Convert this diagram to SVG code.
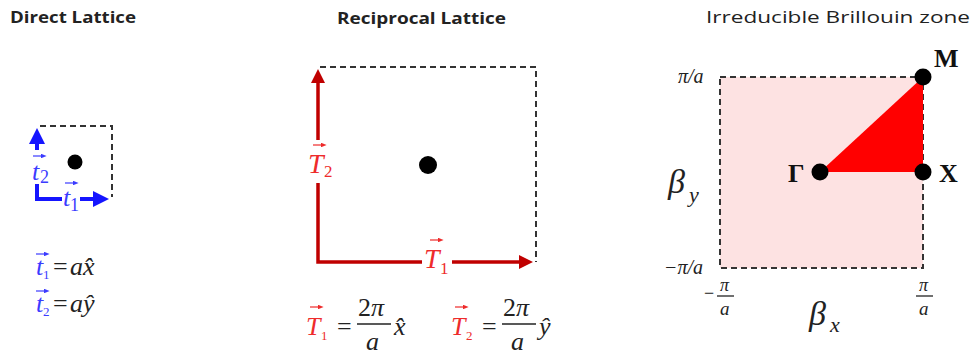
<svg xmlns="http://www.w3.org/2000/svg" width="976" height="360" viewBox="0 0 976 360">
<style>
.title{font-family:"Open Sans","Liberation Sans",sans-serif;fill:#222}
.m{font-family:"Liberation Serif","DejaVu Serif",serif;font-style:italic}
.r{font-family:"Liberation Serif","DejaVu Serif",serif}
.b{font-family:"Liberation Serif","DejaVu Serif",serif;font-weight:bold;fill:#111}
.dash{fill:none;stroke:#333;stroke-width:2;stroke-dasharray:6,4}
.blue{stroke:#1515ff;stroke-width:4;fill:none}
.red{stroke:#c00000;stroke-width:3.5;fill:none}
.vb{fill:#3b3bff}
.vr{fill:#ee2b2b}
.eq{fill:#222}
</style>
<defs>
<marker id="ab" markerWidth="4" markerHeight="4" refX="2" refY="2" orient="auto" markerUnits="strokeWidth"><path d="M0,0 L4,2 L0,4 z" fill="#1515ff"/></marker>
<marker id="ar" markerWidth="4" markerHeight="4" refX="2" refY="2" orient="auto" markerUnits="strokeWidth"><path d="M0,0 L4,2 L0,4 z" fill="#c00000"/></marker>
<marker id="vs" markerWidth="5" markerHeight="4" refX="2" refY="2" orient="auto" markerUnits="strokeWidth"><path d="M0,0 L5,2 L0,4 z" fill="context-stroke"/></marker>
</defs>

<g id="titles">
<text class="title" x="10" y="23" font-size="16" font-weight="700" textLength="126" lengthAdjust="spacingAndGlyphs">Direct Lattice</text>
<text class="title" x="337" y="24" font-size="16" font-weight="700" textLength="169" lengthAdjust="spacingAndGlyphs">Reciprocal Lattice</text>
<text class="title" x="706" y="23" font-size="17" textLength="264" lengthAdjust="spacingAndGlyphs">Irreducible Brillouin zone</text>
</g>

<g id="direct-lattice">
<path class="dash" d="M40,126 H112 V197"/>
<circle cx="75" cy="162" r="7.5" fill="#000"/>
<g id="connectors-direct">
<path class="blue" d="M37,150 V136" marker-end="url(#ab)"/>
<path class="blue" d="M37,184 V199 H62"/>
<path class="blue" d="M80,199 H101" marker-end="url(#ab)"/>
</g>
<g class="vb">
<text class="m" x="32" y="180" font-size="26">t</text>
<text class="r" x="40" y="183" font-size="18">2</text>
<path d="M33,156 H43" stroke="#3b3bff" stroke-width="1.2" marker-end="url(#vs)"/>
<text class="m" x="63" y="206" font-size="26">t</text>
<text class="r" x="70" y="211" font-size="18">1</text>
<path d="M65,183 H75" stroke="#3b3bff" stroke-width="1.2" marker-end="url(#vs)"/>
</g>
<g id="eq-t1">
<text class="m vb" x="36" y="275" font-size="26">t</text>
<text class="r vb" x="43" y="279" font-size="13">1</text>
<path d="M36,254 H46" stroke="#3b3bff" stroke-width="1.2" marker-end="url(#vs)"/>
<text class="r eq" x="53" y="275" font-size="26">=</text>
<text class="m eq" x="70" y="275" font-size="26">ax̂</text>
</g>
<g id="eq-t2">
<text class="m vb" x="36" y="312" font-size="26">t</text>
<text class="r vb" x="43" y="316" font-size="13">2</text>
<path d="M36,291 H46" stroke="#3b3bff" stroke-width="1.2" marker-end="url(#vs)"/>
<text class="r eq" x="53" y="312" font-size="26">=</text>
<text class="m eq" x="70" y="312" font-size="26">aŷ</text>
</g>
</g>

<g id="reciprocal-lattice">
<path class="dash" d="M320,67 H536 V262"/>
<circle cx="428" cy="165" r="9" fill="#000"/>
<g id="connectors-reciprocal">
<path class="red" d="M318,140 V76" marker-end="url(#ar)"/>
<path class="red" d="M318,183 V262 H422"/>
<path class="red" d="M452,262 H526" marker-end="url(#ar)"/>
</g>
<g class="vr">
<text class="m" x="308" y="173" font-size="28">T</text>
<text class="r" x="324" y="177" font-size="17">2</text>
<path d="M313,145 H323" stroke="#ee2b2b" stroke-width="1.2" marker-end="url(#vs)"/>
<text class="m" x="424" y="268" font-size="28">T</text>
<text class="r" x="440" y="274" font-size="17">1</text>
<path d="M430,240 H440" stroke="#ee2b2b" stroke-width="1.2" marker-end="url(#vs)"/>
</g>
<g id="eq-T1">
<text class="m vr" x="306" y="335" font-size="26">T</text>
<text class="r vr" x="321" y="340" font-size="13">1</text>
<path d="M310,307 H320" stroke="#ee2b2b" stroke-width="1.2" marker-end="url(#vs)"/>
<text class="r eq" x="337" y="335" font-size="26">=</text>
<text class="r eq" x="358" y="316" font-size="26">2<tspan class="m">π</tspan></text>
<path d="M357,324 H391" stroke="#222" stroke-width="1.5"/>
<text class="m eq" x="366" y="350" font-size="26">a</text>
<text class="m eq" x="394" y="335" font-size="26">x̂</text>
</g>
<g id="eq-T2">
<text class="m vr" x="451" y="335" font-size="26">T</text>
<text class="r vr" x="466" y="340" font-size="13">2</text>
<path d="M455,307 H465" stroke="#ee2b2b" stroke-width="1.2" marker-end="url(#vs)"/>
<text class="r eq" x="482" y="335" font-size="26">=</text>
<text class="r eq" x="503" y="316" font-size="26">2<tspan class="m">π</tspan></text>
<path d="M502,324 H536" stroke="#222" stroke-width="1.5"/>
<text class="m eq" x="511" y="350" font-size="26">a</text>
<text class="m eq" x="539" y="335" font-size="26">ŷ</text>
</g>
</g>

<g id="brillouin-zone">
<rect x="720" y="77" width="203" height="191" fill="#fde2e2"/>
<path class="dash" d="M720,77 H923 V268 H720 Z"/>
<polygon points="820,172 923,77 923,172" fill="#ff0000"/>
<g id="point-gamma"><circle cx="820" cy="172" r="8.5" fill="#000"/><text class="b" x="788" y="182" font-size="26">Γ</text></g>
<g id="point-M"><circle cx="923" cy="77" r="8.5" fill="#000"/><text class="b" x="934" y="67" font-size="26">M</text></g>
<g id="point-X"><circle cx="923" cy="172" r="8.5" fill="#000"/><text class="b" x="939" y="182" font-size="26">X</text></g>
<text class="m eq" x="678" y="83" font-size="20">π/a</text>
<text class="m eq" x="664" y="274" font-size="20">−π/a</text>
<text class="m eq" x="668" y="193" font-size="34">β</text>
<text class="m eq" x="689" y="202" font-size="22">y</text>
<text class="m eq" x="809" y="325" font-size="34">β</text>
<text class="m eq" x="830" y="332" font-size="22">x</text>
<text class="r eq" x="704" y="299" font-size="18">−</text>
<text class="m eq" x="720" y="291" font-size="18">π</text>
<path d="M717,296 H734" stroke="#222" stroke-width="1.3"/>
<text class="m eq" x="720" y="315" font-size="19">a</text>
<text class="m eq" x="919" y="291" font-size="18">π</text>
<path d="M916,296 H933" stroke="#222" stroke-width="1.3"/>
<text class="m eq" x="919" y="315" font-size="19">a</text>
</g>
</svg>
